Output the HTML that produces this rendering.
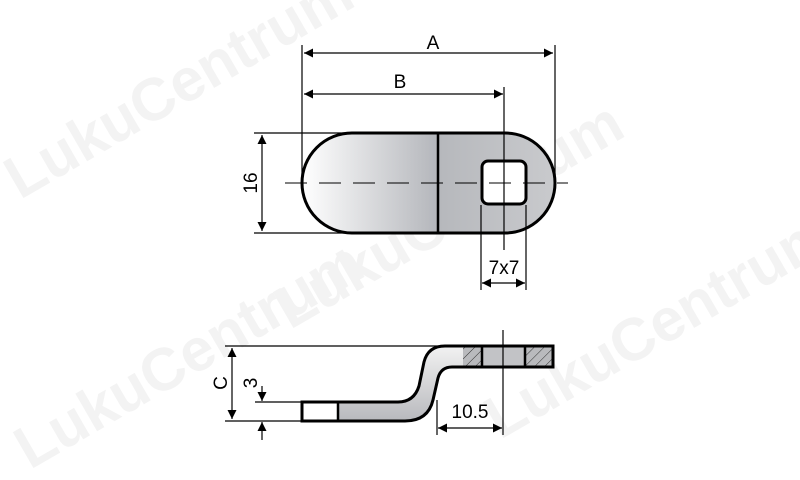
<!DOCTYPE html>
<html><head><style>html,body{margin:0;padding:0;background:#fff}svg{display:block}</style></head>
<body>
<svg width="800" height="480" viewBox="0 0 800 480" xmlns="http://www.w3.org/2000/svg" font-family="Liberation Sans, sans-serif">
<defs>
<linearGradient id="g1" x1="0" x2="1" y1="0" y2="0">
<stop offset="0" stop-color="#fff"/><stop offset="1" stop-color="#b4b6bb"/></linearGradient>
<linearGradient id="g2" x1="0" x2="1" y1="0" y2="0">
<stop offset="0" stop-color="#b6b8bc"/><stop offset="1" stop-color="#c9cacd"/></linearGradient>
<linearGradient id="g3" x1="0" x2="0" y1="0" y2="1">
<stop offset="0" stop-color="#f2f2f2"/><stop offset="1" stop-color="#b8b9bd"/></linearGradient>
<pattern id="h" width="7" height="7" patternUnits="userSpaceOnUse" patternTransform="rotate(45)">
<rect width="7" height="7" fill="#b9babd"/><line x1="0" y1="0" x2="0" y2="7" stroke="#333" stroke-width="1"/></pattern>
<marker id="ar" viewBox="0 0 10 10" refX="10" refY="5" markerWidth="18" markerHeight="9" markerUnits="userSpaceOnUse" orient="auto-start-reverse"><path d="M0,0 L10,5 L0,10z" fill="#000"/></marker>
</defs>
<g fill="#f3f3f3" font-size="60" font-weight="bold">
<text transform="translate(20,200) rotate(-30)">LukuCentrum</text>
<text transform="translate(290,330) rotate(-30)">LukuCentrum</text>
<text transform="translate(500,440) rotate(-30)">LukuCentrum</text>
<text transform="translate(30,470) rotate(-30)">LukuCentrum</text>
</g>
<!-- top view plate -->
<path d="M352,133 H438 V233 H352 A50,50 0 0 1 352,133Z" fill="url(#g1)"/>
<path d="M438,133 H505 A50,50 0 0 1 505,233 H438Z" fill="url(#g2)"/>
<path d="M352,133 H505 A50,50 0 0 1 505,233 H352 A50,50 0 0 1 352,133Z" fill="none" stroke="#000" stroke-width="3"/>
<line x1="438" y1="133" x2="438" y2="233" stroke="#000" stroke-width="2.5"/>
<rect x="482" y="161" width="44" height="43" rx="6" fill="#fff" stroke="#000" stroke-width="3"/>
<line x1="285" y1="183" x2="568" y2="183" stroke="#000" stroke-width="1" stroke-dasharray="22,12"/>
<g stroke="#000" stroke-width="1.2" fill="none">
<line x1="302" y1="45" x2="302" y2="185"/>
<line x1="555" y1="45" x2="555" y2="180"/>
<line x1="504" y1="87" x2="504" y2="250"/>
<line x1="304" y1="53" x2="553" y2="53" marker-start="url(#ar)" marker-end="url(#ar)"/>
<line x1="304" y1="94" x2="503" y2="94" marker-start="url(#ar)" marker-end="url(#ar)"/>
<line x1="254" y1="133" x2="352" y2="133"/>
<line x1="254" y1="233" x2="352" y2="233"/>
<line x1="262" y1="135" x2="262" y2="231" marker-start="url(#ar)" marker-end="url(#ar)"/>
<line x1="481" y1="205" x2="481" y2="290"/>
<line x1="526" y1="205" x2="526" y2="290"/>
<line x1="482" y1="283" x2="525" y2="283" marker-start="url(#ar)" marker-end="url(#ar)"/>
</g>
<g font-size="19" fill="#000">
<text x="433" y="49" text-anchor="middle">A</text>
<text x="400" y="88" text-anchor="middle">B</text>
<text x="504" y="274" text-anchor="middle">7x7</text>
<text transform="translate(257,183) rotate(-90)" text-anchor="middle">16</text>
</g>
<!-- side view -->
<path d="M553,346 H445 Q428,346 424,362 L419,386 Q414,402 398,402 H302 V421 H405 Q428,421 433,400 L438,378 Q441,367 452,367 H553Z" fill="url(#g3)"/>
<rect x="302" y="402" width="36" height="19" fill="#fff"/>
<rect x="463" y="346" width="19" height="21" fill="url(#h)"/>
<rect x="482" y="346" width="43" height="21" fill="#c2c3c6"/>
<rect x="526" y="346" width="27" height="21" fill="url(#h)"/>
<path d="M553,346 H445 Q428,346 424,362 L419,386 Q414,402 398,402 H302 V421 H405 Q428,421 433,400 L438,378 Q441,367 452,367 H553Z" fill="none" stroke="#000" stroke-width="3"/>
<g stroke="#000" stroke-width="2.5"><line x1="338" y1="402" x2="338" y2="421"/><line x1="482" y1="346" x2="482" y2="367"/><line x1="525" y1="346" x2="525" y2="367"/></g>
<g stroke="#000" stroke-width="1.2" fill="none">
<line x1="225" y1="346" x2="445" y2="346"/>
<line x1="225" y1="421" x2="302" y2="421"/>
<line x1="255" y1="402" x2="302" y2="402"/>
<line x1="232" y1="348" x2="232" y2="419" marker-start="url(#ar)" marker-end="url(#ar)"/>
<line x1="262" y1="386" x2="262" y2="401" marker-end="url(#ar)"/>
<line x1="262" y1="440" x2="262" y2="422" marker-end="url(#ar)"/>
<line x1="503" y1="330" x2="503" y2="435"/>
<line x1="437" y1="400" x2="437" y2="435"/>
<line x1="438" y1="428" x2="502" y2="428" marker-start="url(#ar)" marker-end="url(#ar)"/>
</g>
<g font-size="19" fill="#000">
<text x="470" y="418" text-anchor="middle">10.5</text>
<text transform="translate(227,383) rotate(-90)" text-anchor="middle">C</text>
<text transform="translate(257,383) rotate(-90)" text-anchor="middle">3</text>
</g>
</svg>
</body></html>
